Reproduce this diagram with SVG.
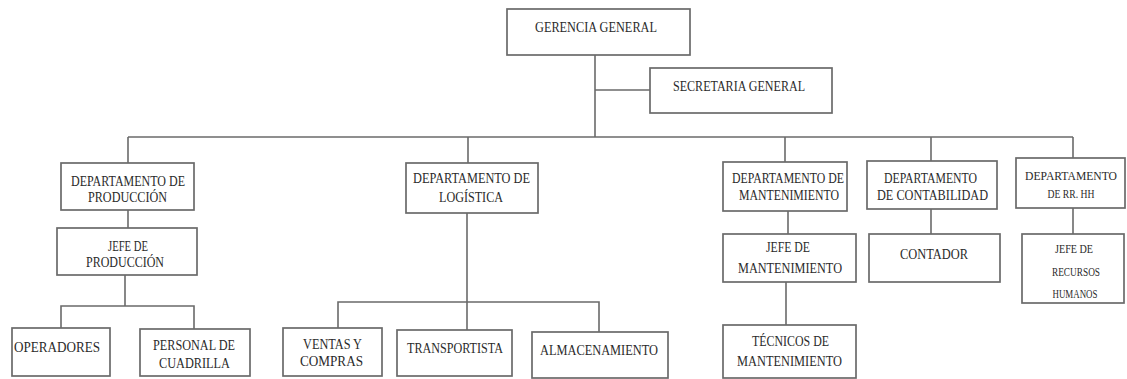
<svg xmlns="http://www.w3.org/2000/svg" width="1127" height="379" viewBox="0 0 1127 379">
<style>
rect{fill:#fff;stroke:#6a6a6a;stroke-width:1.7}
.c line,.c polyline{fill:none;stroke:#6a6a6a;stroke-width:1.6}
text{font-family:"Liberation Serif","Times New Roman",serif;font-size:14.5px;fill:#2a2a2a}
.s{font-size:12.5px;text-anchor:middle}
</style>
<rect x="0" y="0" width="1127" height="379" style="stroke:none"/>
<g class="c" id="connectors">
<line x1="595" y1="55" x2="595" y2="137"/>
<line x1="595" y1="90" x2="650" y2="90"/>
<line x1="128" y1="137" x2="1073" y2="137"/>
<line x1="128" y1="137" x2="128" y2="163"/>
<line x1="468" y1="137" x2="468" y2="163"/>
<line x1="785" y1="137" x2="785" y2="162"/>
<line x1="931" y1="137" x2="931" y2="161"/>
<line x1="1073" y1="137" x2="1073" y2="158"/>
<line x1="128" y1="210" x2="128" y2="228"/>
<line x1="125" y1="275" x2="125" y2="306"/>
<polyline points="61,328 61,306 194,306 194,329"/>
<line x1="467" y1="213" x2="467" y2="330"/>
<polyline points="338,328 338,302 599,302 599,332"/>
<line x1="788" y1="211" x2="788" y2="234"/>
<line x1="786" y1="282" x2="786" y2="325"/>
<line x1="931" y1="209" x2="931" y2="234"/>
<line x1="1073" y1="208" x2="1073" y2="234"/>
</g>
<g id="gerencia"><rect x="507" y="9" width="183" height="46"/><text x="535" y="32" textLength="122" lengthAdjust="spacingAndGlyphs">GERENCIA GENERAL</text></g>
<g id="secretaria"><rect x="650" y="68" width="182" height="45"/><text x="673" y="91" textLength="132" lengthAdjust="spacingAndGlyphs">SECRETARIA GENERAL</text></g>
<g id="dep-produccion"><rect x="61" y="163" width="133" height="47"/><text x="71" y="186" textLength="114" lengthAdjust="spacingAndGlyphs">DEPARTAMENTO DE</text><text x="88" y="202" textLength="79" lengthAdjust="spacingAndGlyphs">PRODUCCIÓN</text></g>
<g id="jefe-produccion"><rect x="57" y="228" width="140" height="47"/><text x="108" y="251" textLength="40" lengthAdjust="spacingAndGlyphs">JEFE DE</text><text x="86" y="267" textLength="78" lengthAdjust="spacingAndGlyphs">PRODUCCIÓN</text></g>
<g id="operadores"><rect x="12" y="328" width="98" height="48"/><text x="14" y="352" textLength="86" lengthAdjust="spacingAndGlyphs">OPERADORES</text></g>
<g id="cuadrilla"><rect x="140" y="329" width="110" height="47"/><text x="153" y="350" textLength="82" lengthAdjust="spacingAndGlyphs">PERSONAL DE</text><text x="159" y="368" textLength="71" lengthAdjust="spacingAndGlyphs">CUADRILLA</text></g>
<g id="dep-logistica"><rect x="406" y="163" width="132" height="50"/><text x="413" y="183" textLength="117" lengthAdjust="spacingAndGlyphs">DEPARTAMENTO DE</text><text x="439" y="202" textLength="64" lengthAdjust="spacingAndGlyphs">LOGÍSTICA</text></g>
<g id="ventas"><rect x="283" y="328" width="99" height="48"/><text x="303" y="349" textLength="59" lengthAdjust="spacingAndGlyphs">VENTAS Y</text><text x="300" y="366" textLength="63" lengthAdjust="spacingAndGlyphs">COMPRAS</text></g>
<g id="transportista"><rect x="397" y="330" width="115" height="46"/><text x="407" y="353" textLength="96" lengthAdjust="spacingAndGlyphs">TRANSPORTISTA</text></g>
<g id="almacenamiento"><rect x="532" y="332" width="136" height="46"/><text x="540" y="355" textLength="118" lengthAdjust="spacingAndGlyphs">ALMACENAMIENTO</text></g>
<g id="dep-mantenimiento"><rect x="723" y="162" width="124" height="49"/><text x="732" y="183" textLength="112" lengthAdjust="spacingAndGlyphs">DEPARTAMENTO DE</text><text x="739" y="200" textLength="100" lengthAdjust="spacingAndGlyphs">MANTENIMIENTO</text></g>
<g id="jefe-mantenimiento"><rect x="723" y="234" width="133" height="48"/><text x="766" y="252" textLength="44" lengthAdjust="spacingAndGlyphs">JEFE DE</text><text x="738" y="273" textLength="104" lengthAdjust="spacingAndGlyphs">MANTENIMIENTO</text></g>
<g id="tecnicos"><rect x="723" y="325" width="133" height="53"/><text x="752" y="346" textLength="77" lengthAdjust="spacingAndGlyphs">TÉCNICOS DE</text><text x="737" y="366" textLength="105" lengthAdjust="spacingAndGlyphs">MANTENIMIENTO</text></g>
<g id="dep-contabilidad"><rect x="867" y="161" width="130" height="48"/><text x="884" y="183" textLength="93" lengthAdjust="spacingAndGlyphs">DEPARTAMENTO</text><text x="877" y="200" textLength="111" lengthAdjust="spacingAndGlyphs">DE CONTABILIDAD</text></g>
<g id="contador"><rect x="869" y="234" width="131" height="48"/><text x="900" y="259" textLength="68" lengthAdjust="spacingAndGlyphs">CONTADOR</text></g>
<g id="dep-rrhh"><rect x="1016" y="158" width="109" height="50"/><text class="s" x="1071" y="180" textLength="92" lengthAdjust="spacingAndGlyphs">DEPARTAMENTO</text><text class="s" x="1071" y="198" textLength="47" lengthAdjust="spacingAndGlyphs">DE RR. HH</text></g>
<g id="jefe-rrhh"><rect x="1022" y="234" width="102" height="69"/><text class="s" x="1074" y="253" textLength="38" lengthAdjust="spacingAndGlyphs">JEFE DE</text><text class="s" x="1076" y="276" textLength="48" lengthAdjust="spacingAndGlyphs">RECURSOS</text><text class="s" x="1075" y="298" textLength="45" lengthAdjust="spacingAndGlyphs">HUMANOS</text></g>
</svg>
